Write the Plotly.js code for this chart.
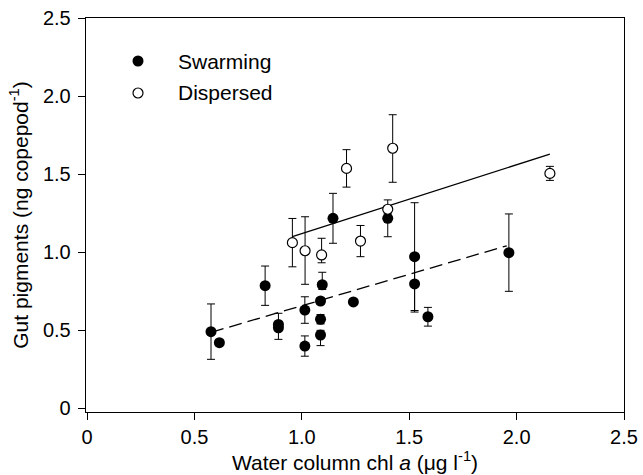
<!DOCTYPE html>
<html>
<head>
<meta charset="utf-8">
<script src="https://cdn.plot.ly/plotly-3.0.1.min.js"></script>
<style>html,body{margin:0;padding:0;background:#fff;}#chart{width:643px;height:475px;}</style>
</head>
<body>
<div id="chart"></div>
<script>
// Swarming (filled circles)
var swarmX   = [0.577, 0.616, 0.829, 0.891, 0.891, 1.014, 1.014, 1.087, 1.087, 1.087, 1.095, 1.145, 1.240, 1.400, 1.525, 1.525, 1.587, 1.964];
var swarmY   = [0.489, 0.419, 0.784, 0.536, 0.514, 0.628, 0.397, 0.468, 0.569, 0.686, 0.790, 1.216, 0.680, 1.216, 0.970, 0.795, 0.585, 0.996];
var swarmErrUp   = [0.178, 0.020, 0.126, 0.071, 0.020, 0.085, 0.065, 0.030, 0.030, 0.020, 0.080, 0.160, 0.015, 0.050, 0.346, 0.180, 0.060, 0.248];
var swarmErrDown = [0.177, 0.020, 0.126, 0.020, 0.074, 0.085, 0.065, 0.068, 0.030, 0.020, 0.030, 0.160, 0.015, 0.118, 0.345, 0.180, 0.060, 0.248];

// Dispersed (open circles)
var dispX   = [0.956, 1.015, 1.092, 1.208, 1.273, 1.400, 1.423, 2.155];
var dispY   = [1.060, 1.008, 0.981, 1.536, 1.070, 1.274, 1.665, 1.504];
var dispErrUp   = [0.155, 0.218, 0.107, 0.120, 0.100, 0.060, 0.215, 0.045];
var dispErrDown = [0.155, 0.215, 0.050, 0.120, 0.100, 0.030, 0.218, 0.045];

// Regression lines (end points)
var swarmFitX = [0.577, 1.954];
var swarmFitY = [0.485, 1.040];
var dispFitX  = [0.956, 2.155];
var dispFitY  = [1.098, 1.628];

// Tick labels
var tickVals = [0, 0.5, 1.0, 1.5, 2.0, 2.5];
var tickText = ['0', '0.5', '1.0', '1.5', '2.0', '2.5'];

var legendNames = ['Swarming', 'Dispersed'];

var FONT = 'Liberation Sans, Arial, Helvetica, sans-serif';

var traces = [
  {x: swarmFitX, y: swarmFitY, mode: 'lines', line: {color: '#000', width: 1.3, dash: '13px,6px'}, showlegend: false, hoverinfo: 'skip'},
  {x: dispFitX, y: dispFitY, mode: 'lines', line: {color: '#000', width: 1.3}, showlegend: false, hoverinfo: 'skip'},
  {x: swarmX, y: swarmY, mode: 'markers', name: legendNames[0], showlegend: false,
   marker: {symbol: 'circle', size: 11, color: '#000', line: {color: '#000', width: 0}},
   error_y: {type: 'data', symmetric: false, array: swarmErrUp, arrayminus: swarmErrDown, color: '#000', thickness: 1, width: 4}},
  {x: dispX, y: dispY, mode: 'markers', name: legendNames[1], showlegend: false,
   marker: {symbol: 'circle', size: 10, color: '#fff', line: {color: '#000', width: 1.2}},
   error_y: {type: 'data', symmetric: false, array: dispErrUp, arrayminus: dispErrDown, color: '#000', thickness: 1, width: 4}}
];

var axisCommon = {
  showgrid: false, zeroline: false, showline: true, linecolor: '#000', linewidth: 1.3,
  mirror: true, ticks: 'outside', ticklen: 7, tickwidth: 1, tickcolor: '#000',
  tickmode: 'array', tickvals: tickVals, ticktext: tickText,
  tickfont: {family: FONT, size: 20, color: '#000'}
};

var layout = {
  width: 643, height: 475,
  margin: {l: 86, r: 19, t: 18, b: 63},
  paper_bgcolor: '#fff', plot_bgcolor: '#fff',
  font: {family: FONT, color: '#000'},
  xaxis: Object.assign({}, axisCommon, {
    range: [-0.005, 2.5],
    title: {text: 'Water column chl <i>a</i> (\u03bcg l<sup>-1</sup>)', font: {family: FONT, size: 21, color: '#000'}, standoff: 2}
  }),
  yaxis: Object.assign({}, axisCommon, {
    range: [-0.0256, 2.5],
    ticklabelstandoff: 3,
    title: {text: 'Gut pigments (ng copepod<sup>-1</sup>)', font: {family: FONT, size: 21, color: '#000'}, standoff: 8}
  }),
  shapes: [
    {type: 'circle', xref: 'paper', yref: 'paper', xsizemode: 'pixel', ysizemode: 'pixel',
     xanchor: (138 - 86) / 538, yanchor: 1 - (61 - 18) / 394, x0: -5.5, x1: 5.5, y0: -5.5, y1: 5.5,
     fillcolor: '#000', line: {color: '#000', width: 0}},
    {type: 'circle', xref: 'paper', yref: 'paper', xsizemode: 'pixel', ysizemode: 'pixel',
     xanchor: (138 - 86) / 538, yanchor: 1 - (93 - 18) / 394, x0: -5, x1: 5, y0: -5, y1: 5,
     fillcolor: '#fff', line: {color: '#000', width: 1.2}}
  ],
  annotations: [
    {xref: 'paper', yref: 'paper', x: (176 - 86) / 538, y: 1 - (61 - 18) / 394, xanchor: 'left', yanchor: 'middle',
     text: legendNames[0], showarrow: false, font: {family: FONT, size: 21, color: '#000'}},
    {xref: 'paper', yref: 'paper', x: (176 - 86) / 538, y: 1 - (93 - 18) / 394, xanchor: 'left', yanchor: 'middle',
     text: legendNames[1], showarrow: false, font: {family: FONT, size: 21, color: '#000'}}
  ]
};

Plotly.newPlot('chart', traces, layout, {displayModeBar: false, staticPlot: true});
</script>
</body>
</html>
